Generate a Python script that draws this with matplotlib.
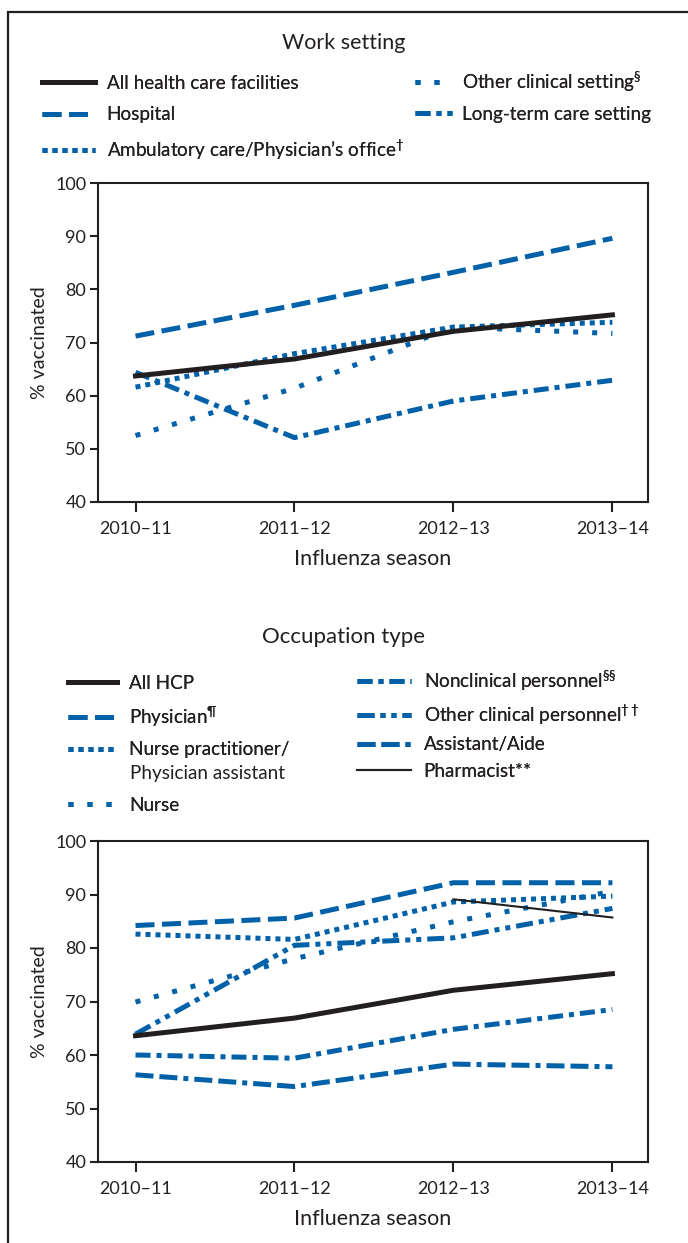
import matplotlib
matplotlib.use("Agg")
import matplotlib.pyplot as plt
from matplotlib.lines import Line2D
from matplotlib.patches import Rectangle

FONT = "Lato"
plt.rcParams["font.family"] = [FONT, "DejaVu Sans"]
plt.rcParams["mathtext.fontset"] = "custom"
plt.rcParams["mathtext.rm"] = FONT
plt.rcParams["mathtext.it"] = FONT

BLUE = "#0061A9"
BLACK = "#231F20"

seasons = ["2010\u201311", "2011\u201312", "2012\u201313", "2013\u201314"]

# work setting
all_facilities = [63.7, 66.9, 72.1, 75.2]
hospital = [71.2, 77.0, 83.2, 89.6]
ambulatory = [61.6, 67.9, 72.9, 73.8]
other_setting = [52.5, 61.4, 72.9, 71.7]
long_term = [64.4, 52.1, 59.0, 62.9]

# occupation type
all_hcp = [63.6, 66.9, 72.1, 75.2]
physician = [84.2, 85.6, 92.2, 92.2]
np_pa = [82.6, 81.6, 88.6, 89.7]
nurse = [69.9, 78.0, 84.9, 90.6]
nonclinical = [60.0, 59.4, 64.8, 68.5]
other_personnel = [63.9, 80.5, 81.9, 87.4]
assistant = [56.3, 54.1, 58.3, 57.8]
pharmacist = [None, None, 89.1, 85.7]

LW = 3.6
ST_SOLID = "-"
ST_DASH = (0, (3.8, 1.5))
ST_DOT = (0, (1.0, 1.0))
ST_SPARSE = (0, (1.0, 2.8))
ST_DASHDOT = (0, (3.0, 1.2, 1.0, 1.2))
ST_DASHDOTDOT = (0, (3.4, 1.2, 1.0, 1.2, 1.0, 1.2))
ST_DASHDASHDOT = (0, (3.6, 1.2, 3.6, 1.2, 1.0, 1.2))

LEG_FS = 13.6

fig = plt.figure(figsize=(6.88, 12.43), dpi=100)
W, H = 688.0, 1243.0

# outer frame
fig.patches.append(Rectangle((8 / W, -0.05), 1.1, 1 - 12 / H + 0.05, transform=fig.transFigure,
                             fill=False, edgecolor=BLACK, linewidth=1.6))


def style_axes(ax):
    ax.set_xlim(-0.236, 3.224)
    ax.set_ylim(40, 100)
    ax.set_xticks(range(4))
    ax.set_xticklabels(seasons)
    ax.set_yticks(range(40, 101, 10))
    for s in ax.spines.values():
        s.set_linewidth(1.5)
        s.set_color(BLACK)
    ax.tick_params(axis="y", direction="out", length=6, width=1.5, colors=BLACK,
                   labelsize=13, pad=2.5)
    ax.tick_params(axis="x", direction="out", length=7.5, width=1.5, colors=BLACK,
                   labelsize=13, pad=6)
    ax.set_ylabel("% vaccinated", fontsize=14, color=BLACK, labelpad=5)
    ax.set_xlabel("Influenza season", fontsize=15.5, color=BLACK, labelpad=9)


x = list(range(4))

# ---- top panel ----
ax1 = fig.add_axes([98 / W, 1 - 502 / H, 550 / W, 319 / H])
ax1.plot(x, hospital, color=BLUE, lw=LW, ls=ST_DASH)
ax1.plot(x, other_setting, color=BLUE, lw=LW, ls=ST_SPARSE)
ax1.plot(x, long_term, color=BLUE, lw=LW, ls=ST_DASHDOT)
ax1.plot(x, ambulatory, color=BLUE, lw=LW, ls=ST_DOT)
ax1.plot(x, all_facilities, color=BLACK, lw=LW, ls=ST_SOLID)
style_axes(ax1)
fig.text(0.5, 1 - 43 / H, "Work setting", ha="center", va="center", fontsize=15.5, color=BLACK)

leg_kw = dict(frameon=False, fontsize=LEG_FS, borderpad=0, borderaxespad=0,
              labelcolor=BLACK, loc="upper left")

h_left = [Line2D([], [], color=BLACK, lw=LW, ls=ST_SOLID),
          Line2D([], [], color=BLUE, lw=LW, ls=ST_DASH),
          Line2D([], [], color=BLUE, lw=LW, ls=ST_DOT)]
l_left = ["All health care facilities", "Hospital",
          r"Ambulatory care/Physician’s office$^{\dagger}$"]
lg = fig.legend(h_left, l_left, bbox_to_anchor=(42 / W, 1 - 75 / H), handlelength=2.8,
                handletextpad=0.62, labelspacing=0.76, **leg_kw)
fig.add_artist(lg)

h_right = [Line2D([], [], color=BLUE, lw=LW, ls=ST_SPARSE),
           Line2D([], [], color=BLUE, lw=LW, ls=ST_DASHDOT)]
l_right = [r"Other clinical setting$^{\S}$", "Long-term care setting"]
lg = fig.legend(h_right, l_right, bbox_to_anchor=(415 / W, 1 - 70 / H), handlelength=1.95,
                handletextpad=0.52, labelspacing=0.6, **leg_kw)
fig.add_artist(lg)

# ---- bottom panel ----
ax2 = fig.add_axes([98 / W, 1 - 1162 / H, 550 / W, 321 / H])
ax2.plot(x, assistant, color=BLUE, lw=LW, ls=ST_DASHDASHDOT)
ax2.plot(x, nonclinical, color=BLUE, lw=LW, ls=ST_DASHDOT)
ax2.plot(x, other_personnel, color=BLUE, lw=LW, ls=ST_DASHDOTDOT)
ax2.plot(x, nurse, color=BLUE, lw=LW, ls=ST_SPARSE)
ax2.plot(x, np_pa, color=BLUE, lw=LW, ls=ST_DOT)
ax2.plot(x, physician, color=BLUE, lw=LW, ls=ST_DASH)
ax2.plot(x, all_hcp, color=BLACK, lw=LW, ls=ST_SOLID)
ax2.plot(x, [float("nan") if v is None else v for v in pharmacist], color=BLACK, lw=1.5)
style_axes(ax2)
fig.text(0.5, 1 - 637 / H, "Occupation type", ha="center", va="center", fontsize=16, color=BLACK)

h_bl = [Line2D([], [], color=BLACK, lw=LW, ls=ST_SOLID),
        Line2D([], [], color=BLUE, lw=LW, ls=ST_DASH),
        Line2D([], [], color=BLUE, lw=LW, ls=ST_DOT)]
l_bl = ["All HCP", r"Physician$^{\P}$", "Nurse practitioner/"]
lg = fig.legend(h_bl, l_bl, bbox_to_anchor=(68 / W, 1 - 675 / H), handlelength=2.6,
                handletextpad=0.62, labelspacing=0.66, **leg_kw)
fig.add_artist(lg)
fig.text(130 / W, 1 - 773 / H, "Physician assistant", ha="left", va="center",
         fontsize=LEG_FS, color=BLACK)
lg = fig.legend([Line2D([], [], color=BLUE, lw=LW, ls=ST_SPARSE)], ["Nurse"],
                bbox_to_anchor=(68 / W, 1 - 797 / H), handlelength=2.6,
                handletextpad=0.62, **leg_kw)
fig.add_artist(lg)

h_br = [Line2D([], [], color=BLUE, lw=LW, ls=ST_DASHDOT),
        Line2D([], [], color=BLUE, lw=LW, ls=ST_DASHDOTDOT),
        Line2D([], [], color=BLUE, lw=LW, ls=ST_DASHDASHDOT),
        Line2D([], [], color=BLACK, lw=1.5, ls=ST_SOLID)]
l_br = [r"Nonclinical personnel$^{\S\S}$", r"Other clinical personnel$^{\dagger\dagger}$",
        "Assistant/Aide", "Pharmacist**"]
lg = fig.legend(h_br, l_br, bbox_to_anchor=(357 / W, 1 - 669 / H), handlelength=2.85,
                handletextpad=0.68, labelspacing=0.5, **leg_kw)
fig.add_artist(lg)

fig.savefig("out.png", dpi=100)
